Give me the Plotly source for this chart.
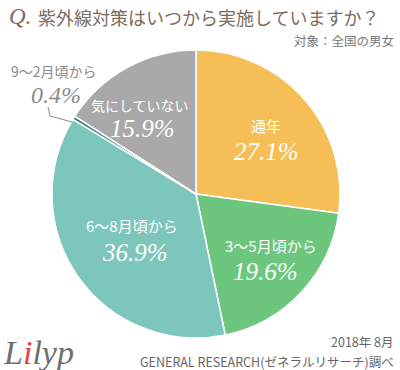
import plotly.graph_objects as go

labels = ["通年", "3～5月頃から", "6～8月頃から", "9～2月頃から", "気にしていない"]
values = [27.1, 19.6, 36.9, 0.4, 15.9]
colors = ["#F5BE56", "#6CC67D", "#7CC6BB", "#3F8E7E", "#A9A9A9"]
pct_text = ["27.1%", "19.6%", "36.9%", "0.4%", "15.9%"]

W, H = 400, 370
cx, cy, r = 196, 194, 144

fig = go.Figure()
fig.add_trace(go.Pie(
    labels=labels, values=values, sort=False, direction="clockwise", rotation=0,
    marker=dict(colors=colors, line=dict(color="white", width=1.5)),
    textinfo="none", hoverinfo="label+percent", showlegend=False,
    domain=dict(x=[(cx - r) / W, (cx + r) / W], y=[1 - (cy + r) / H, 1 - (cy - r) / H]),
))

def px(x):
    return x / W

def py(y):
    return 1 - y / H

ann = []
def add(text, x, y, size, color, family="Noto Sans CJK JP", xanchor="center"):
    ann.append(dict(text=text, x=px(x), y=py(y), xref="paper", yref="paper",
                    showarrow=False, xanchor=xanchor, yanchor="middle",
                    font=dict(size=size, color=color, family=family)))

pct_font = "Liberation Serif"
# inside labels
pos = {0: (266, 125, 266, 151), 1: (271, 245, 265, 271), 2: (132, 225, 135, 252), 4: (140, 105, 142, 128)}
lab_size = {0: 15, 1: 15, 2: 15, 4: 14}
for i, (lx, ly, vx, vy) in pos.items():
    add(labels[i], lx, ly, lab_size[i], "white")
    add("<i>" + pct_text[i] + "</i>", vx, vy, 25, "white", pct_font)

# outside label
add(labels[3], 54, 71, 14, "#8a8a8a")
add("<i>" + pct_text[3] + "</i>", 56, 95, 24, "#8a8a8a", pct_font)

# title
add("<i>Q.</i>", 7, 17, 23, "#7b6b62", pct_font, xanchor="left")
add("紫外線対策はいつから実施していますか？", 36, 17, 18, "#7b6b62", xanchor="left")
add("対象：全国の男女", 396, 41, 12.5, "#777777", xanchor="right")

# footer
add("2018年 8月", 396, 341, 12.5, "#666666", xanchor="right")
add("GENERAL RESEARCH(ゼネラルリサーチ)調べ", 396, 361, 12.5, "#666666", xanchor="right")
add("<i>L<span style='color:#E8403A'>i</span>lyp</i>", 1, 352, 34, "#6e6e6e", pct_font, xanchor="left")

fig.update_layout(
    width=W, height=H, margin=dict(l=0, r=0, t=0, b=0),
    paper_bgcolor="white", plot_bgcolor="white",
    annotations=ann,
    shapes=[dict(type="path", xref="paper", yref="paper",
                 path=f"M {px(48)} {py(107)} L {px(50)} {py(116)} L {px(72)} {py(122)}",
                 line=dict(color="#8a8a8a", width=1))],
)

fig.write_html("out.html", config={"displayModeBar": False},
               post_script="document.body.style.margin='0';document.body.style.overflow='hidden';")
